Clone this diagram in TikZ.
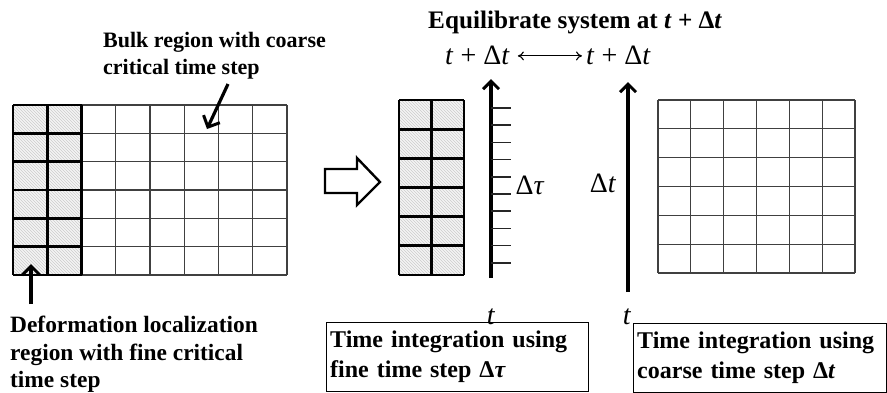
\documentclass[tikz,border=0pt]{standalone}
\usepackage{fontspec}
\setmainfont{Liberation Serif}
\usetikzlibrary{arrows.meta,patterns}
\newcommand\itT{\textit{t}}
\newcommand\itTau{\textit{τ}}
\begin{document}
\begin{tikzpicture}[x=1pt,y=-1pt,
  thingrid/.style={draw=black!75,line width=1.3pt},
  thickgrid/.style={draw=black,line width=2.7pt},
  hatchfill/.style={fill=gray!9},
  hatchpat/.style={pattern=north west lines,pattern color=gray!40},
  boldtxt/.style={font=\fontsize{22}{27.5}\selectfont\bfseries,inner sep=0pt,align=left},
  boxtxt/.style={font=\fontsize{24}{30}\selectfont\bfseries,draw=black,line width=1.4pt,
     inner xsep=3.5pt,inner ysep=0pt,align=left,anchor=north west,minimum height=69pt},
  mathtxt/.style={font=\fontsize{28}{30}\selectfont,inner sep=0pt},
  axisarr/.style={line width=3.4pt,-{Straight Barb[length=8pt,width=16pt,line width=3pt]}},
  ptrarr/.style={line width=3.2pt,-{Straight Barb[length=9pt,width=18pt,line width=3pt]}},
  tickln/.style={line width=1.5pt,draw=black!85}]
\useasboundingbox (0,0) rectangle (887,392);

% ---------- left grid ----------
\fill[hatchfill] (13,105) rectangle (81.5,275);
\fill[hatchpat] (13,105) rectangle (81.5,275);
\foreach \i in {0,...,8}{\draw[thingrid] ({13+34.25*\i},105) -- ({13+34.25*\i},275);}
\foreach \j in {0,...,6}{\draw[thingrid] (13,{105+28.333*\j}) -- (287,{105+28.333*\j});}
\foreach \i in {0,1,2}{\draw[thickgrid] ({13+34.25*\i},105) -- ({13+34.25*\i},275);}
\foreach \j in {0,...,6}{\draw[thickgrid] (13,{105+28.333*\j}) -- (81.5,{105+28.333*\j});}

% ---------- middle hatched column ----------
\fill[hatchfill] (399,100) rectangle (464,275);
\fill[hatchpat] (399,100) rectangle (464,275);
\foreach \i in {0,1,2}{\draw[thickgrid] ({399+32.5*\i},100) -- ({399+32.5*\i},275);}
\foreach \j in {0,...,6}{\draw[thickgrid] (399,{100+29.1667*\j}) -- (464,{100+29.1667*\j});}

% ---------- right grid ----------
\foreach \i in {0,...,6}{\draw[thingrid] ({658+32.833*\i},100) -- ({658+32.833*\i},273);}
\foreach \j in {0,...,6}{\draw[thingrid] (658,{100+28.833*\j}) -- (855,{100+28.833*\j});}

% ---------- hollow arrow ----------
\draw[line width=2.4pt,line join=miter] (325,169) -- (357,169) -- (357,158) -- (380,182)
  -- (357,205) -- (357,193) -- (325,193) -- cycle;

% ---------- texts ----------
\node[boldtxt,anchor=north west] (bulk) at (103,32) {Bulk region with coarse\\critical time step};
\node[boldtxt,anchor=north west,font=\fontsize{23.4}{27.5}\selectfont\bfseries] (deform) at (10,316)
  {Deformation localization\\region with fine critical\\time step};
\node[boldtxt,anchor=base west,font=\fontsize{25.2}{27}\selectfont\bfseries] (title) at (428,28)
  {Equilibrate system at \textit{t} + Δ\textit{t}};

\node[mathtxt,anchor=base west] (tl) at (445,64) {\itT\ + Δ\itT};
\node[mathtxt,anchor=base west] (tr) at (586,64) {\itT\ + Δ\itT};
\draw[line width=1.1pt,{To[length=6pt,width=9pt]}-{To[length=6pt,width=9pt]}]
  ([xshift=8pt,yshift=-1pt]tl.east) -- ([xshift=-4pt,yshift=-1pt]tr.west);

\node[mathtxt] (dtau) at (530,185) {Δ\itTau};
\node[mathtxt] (dt) at (603,183) {Δ\itT};
\node[mathtxt] (tf) at (491,317) {\itT};
\node[mathtxt] (tc) at (627,317) {\itT};

% ---------- axes ----------
\coordinate (fb) at (491,278);
\coordinate (ft) at (491,79);
\draw[axisarr] (fb) -- (ft);
\foreach \k in {0,...,9}{\draw[tickln] (491,{108+17.2*\k}) -- (511,{108+17.2*\k});}
\coordinate (cb) at (628,292);
\coordinate (ct) at (628,82);
\draw[axisarr] (cb) -- (ct);

% ---------- pointer arrows ----------
\coordinate (bulkStart) at (228,84);
\coordinate (bulkTip) at (207,129);
\draw[ptrarr] (bulkStart) -- (bulkTip);
\coordinate (locStart) at (31,304);
\coordinate (locTip) at (31,264);
\draw[ptrarr] (locStart) -- (locTip);

% ---------- boxes ----------
\node[boxtxt,text width=254.6pt] (fbox) at (326,322) {Time integration using\\fine time step Δ\textit{τ}};
\node[boxtxt,text width=245.6pt] (cbox) at (633,323) {Time integration using\\coarse time step Δ\textit{t}};
\end{tikzpicture}
\end{document}
